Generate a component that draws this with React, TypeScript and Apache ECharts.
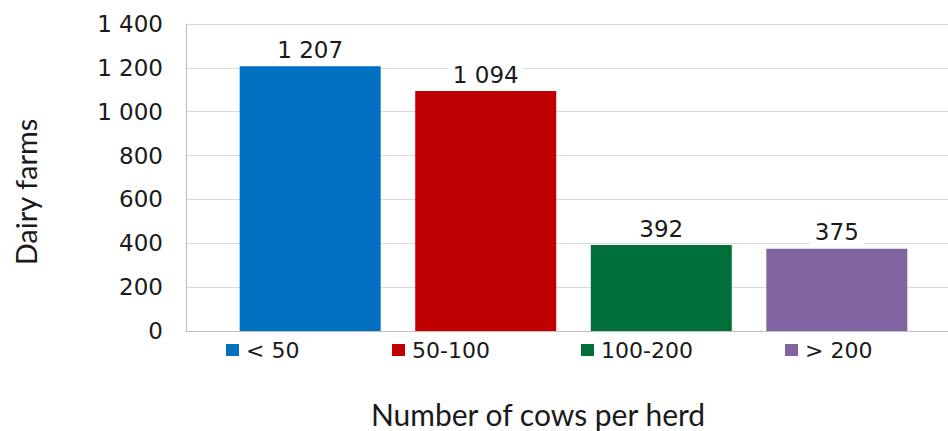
import React, { useEffect, useRef } from "react";
import * as echarts from "echarts";

const categories = ["< 50", "50-100", "100-200", "> 200"];
const values = [1207, 1094, 392, 375];
const colors = ["#0070C0", "#C00000", "#00703A", "#8064A2"];
const legendLeft = [226, 392, 581, 785];
const yTicks = { min: 0, max: 1400, interval: 200 };
const xTitle = "Number of cows per herd";
const yTitle = "Dairy farms";

const fmt = (v: number) => String(v).replace(/\B(?=(\d{3})+(?!\d))/g, " ");

export default function App() {
  const ref = useRef<HTMLDivElement>(null);
  useEffect(() => {
    if (!ref.current) return;
    const chart = echarts.init(ref.current, undefined, { renderer: "svg" });
    const textColor = "#1a1a1a";
    const numFont = "DejaVu Sans";
    chart.setOption({
      animation: false,
      backgroundColor: "#ffffff",
      grid: { left: 186, right: 0, top: 24, bottom: 100, containLabel: false },
      legend: categories.map((c, i) => ({
        data: [c],
        left: legendLeft[i],
        top: 339,
        padding: 0,
        itemWidth: 13,
        itemHeight: 12,
        itemGap: 0,
        icon: "rect",
        selectedMode: false,
        textStyle: { fontFamily: numFont, fontSize: 22, color: textColor, padding: [0, 0, 0, 2] },
      })),
      xAxis: {
        type: "category",
        data: [""],
        axisTick: { show: false },
        axisLabel: { show: false },
        axisLine: { show: true, lineStyle: { color: "#bfbfbf", width: 1 } },
      },
      yAxis: {
        type: "value",
        min: yTicks.min,
        max: yTicks.max,
        interval: yTicks.interval,
        axisLine: { show: true, lineStyle: { color: "#bfbfbf", width: 1 } },
        axisTick: { show: false },
        splitLine: { show: true, lineStyle: { color: "#d9d9d9", width: 1 } },
        axisLabel: {
          formatter: (v: number) => fmt(v),
          fontFamily: numFont,
          fontSize: 23,
          color: textColor,
          margin: 23,
        },
      },
      series: categories.map((c, i) => ({
        name: c,
        type: "bar",
        data: [values[i]],
        barWidth: 141,
        barGap: "24.5%",
        itemStyle: { color: colors[i] },
        label: {
          show: true,
          position: "top",
          distance: 3,
          formatter: (p: any) => fmt(p.value),
          fontFamily: numFont,
          fontSize: 23,
          color: textColor,
          backgroundColor: "#ffffff",
          padding: [2, 5],
        },
      })),
      graphic: [
        {
          type: "text",
          x: 538,
          y: 414,
          style: {
            text: xTitle,
            fontFamily: "Lato",
            fontSize: 30,
            fill: textColor,
            textAlign: "center",
            textVerticalAlign: "middle",
          },
        },
        {
          type: "text",
          x: 25,
          y: 192,
          rotation: Math.PI / 2,
          style: {
            text: yTitle,
            fontFamily: "Lato",
            fontSize: 29,
            fill: textColor,
            textAlign: "center",
            textVerticalAlign: "middle",
          },
        },
      ],
    });
    return () => chart.dispose();
  }, []);
  return (
    <div
      ref={ref}
      style={{ position: "fixed", left: 0, top: 0, width: 961, height: 431 }}
    />
  );
}
